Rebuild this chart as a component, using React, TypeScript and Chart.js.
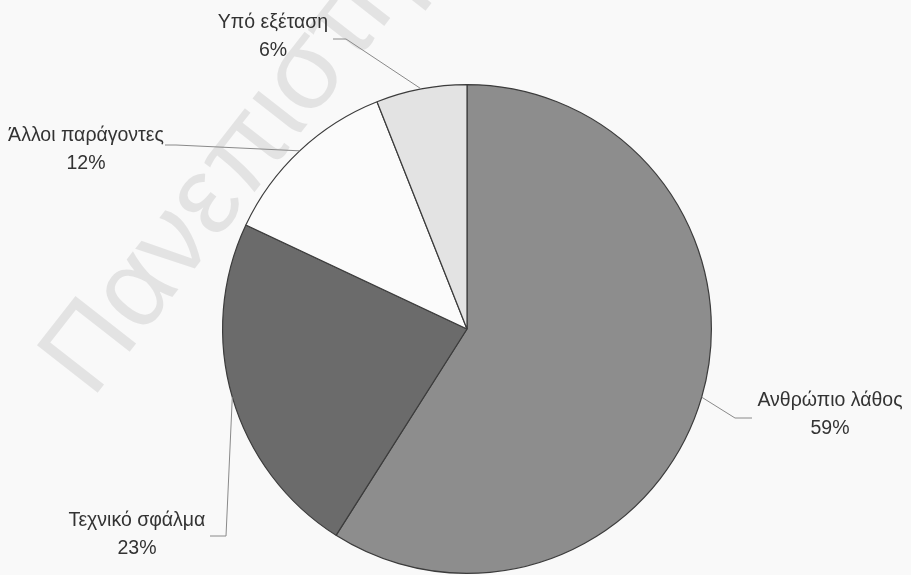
import React, { useEffect, useRef } from "react";
import { Chart, registerables } from "chart.js";

Chart.register(...registerables);

const categories = ["Ανθρώπιο λάθος", "Τεχνικό σφάλμα", "Άλλοι παράγοντες", "Υπό εξέταση"];
const values = [59, 23, 12, 6];
const valueLabels = ["59%", "23%", "12%", "6%"];
const sliceColors = ["#8d8d8d", "#6b6b6b", "#fbfbfb", "#e3e3e3"];

// label layout: text block centre (x, first line y) and elbow point of the leader line
const labelLayout = [
  { x: 830, y: 401, lx: 752, ly: 418, ex: 735, ey: 418 },
  { x: 137, y: 521, lx: 210, ly: 536, ex: 226, ey: 536 },
  { x: 86, y: 136, lx: 165, ly: 145, ex: 176, ey: 145 },
  { x: 273, y: 23, lx: 333, ly: 39, ex: 346, ey: 39 },
];

const BG = "#f9f9f9";
const FONT = '19.5px "Liberation Sans", Arial, sans-serif';
const WATERMARK = "Πανεπιστήμιο Πειραιώς";

const watermarkPlugin = {
  id: "watermark",
  beforeDatasetsDraw(chart: any) {
    const ctx = chart.ctx;
    ctx.save();
    ctx.translate(92, 400);
    ctx.rotate((-52 * Math.PI) / 180);
    ctx.font = '112px "Liberation Sans", Arial, sans-serif';
    ctx.fillStyle = "rgba(0,0,0,0.085)";
    ctx.textBaseline = "alphabetic";
    ctx.textAlign = "left";
    ctx.fillText(WATERMARK, 0, 0);
    ctx.restore();
  },
};

const bgPlugin = {
  id: "bg",
  beforeDraw(chart: any) {
    const ctx = chart.ctx;
    ctx.save();
    ctx.fillStyle = BG;
    ctx.fillRect(0, 0, chart.width, chart.height);
    ctx.restore();
  },
};

const labelPlugin = {
  id: "pieLabels",
  afterDatasetsDraw(chart: any) {
    const ctx = chart.ctx;
    const meta = chart.getDatasetMeta(0);
    ctx.save();
    meta.data.forEach((arc: any, i: number) => {
      const L = labelLayout[i];
      const mid = (arc.startAngle + arc.endAngle) / 2;
      const px = arc.x + Math.cos(mid) * arc.outerRadius;
      const py = arc.y + Math.sin(mid) * arc.outerRadius;
      ctx.strokeStyle = "#8a8a8a";
      ctx.lineWidth = 1;
      ctx.beginPath();
      ctx.moveTo(L.lx, L.ly);
      ctx.lineTo(L.ex, L.ey);
      ctx.lineTo(px, py);
      ctx.stroke();
      ctx.fillStyle = "#333333";
      ctx.font = FONT;
      ctx.textAlign = "center";
      ctx.textBaseline = "middle";
      ctx.fillText(chart.data.labels[i], L.x, L.y);
      ctx.fillText(valueLabels[i], L.x, L.y + 28);
    });
    ctx.restore();
  },
};

export default function App() {
  const ref = useRef<HTMLCanvasElement | null>(null);
  useEffect(() => {
    document.body.style.margin = "0";
    document.body.style.background = BG;
    const chart = new Chart(ref.current as HTMLCanvasElement, {
      type: "pie",
      data: {
        labels: categories,
        datasets: [
          {
            data: values,
            backgroundColor: sliceColors,
            borderColor: "#3c3c3c",
            borderWidth: 1.2,
          },
        ],
      },
      options: {
        animation: false,
        responsive: true,
        maintainAspectRatio: false,
        layout: { padding: { left: 222, right: 199, top: 84, bottom: 1 } },
        plugins: {
          legend: { display: false },
          tooltip: { enabled: false },
          title: { display: false },
        },
      },
      plugins: [bgPlugin, watermarkPlugin, labelPlugin],
    });
    return () => chart.destroy();
  }, []);
  return (
    <div style={{ position: "absolute", left: 0, top: 0, width: 911, height: 575 }}>
      <canvas ref={ref} />
    </div>
  );
}
